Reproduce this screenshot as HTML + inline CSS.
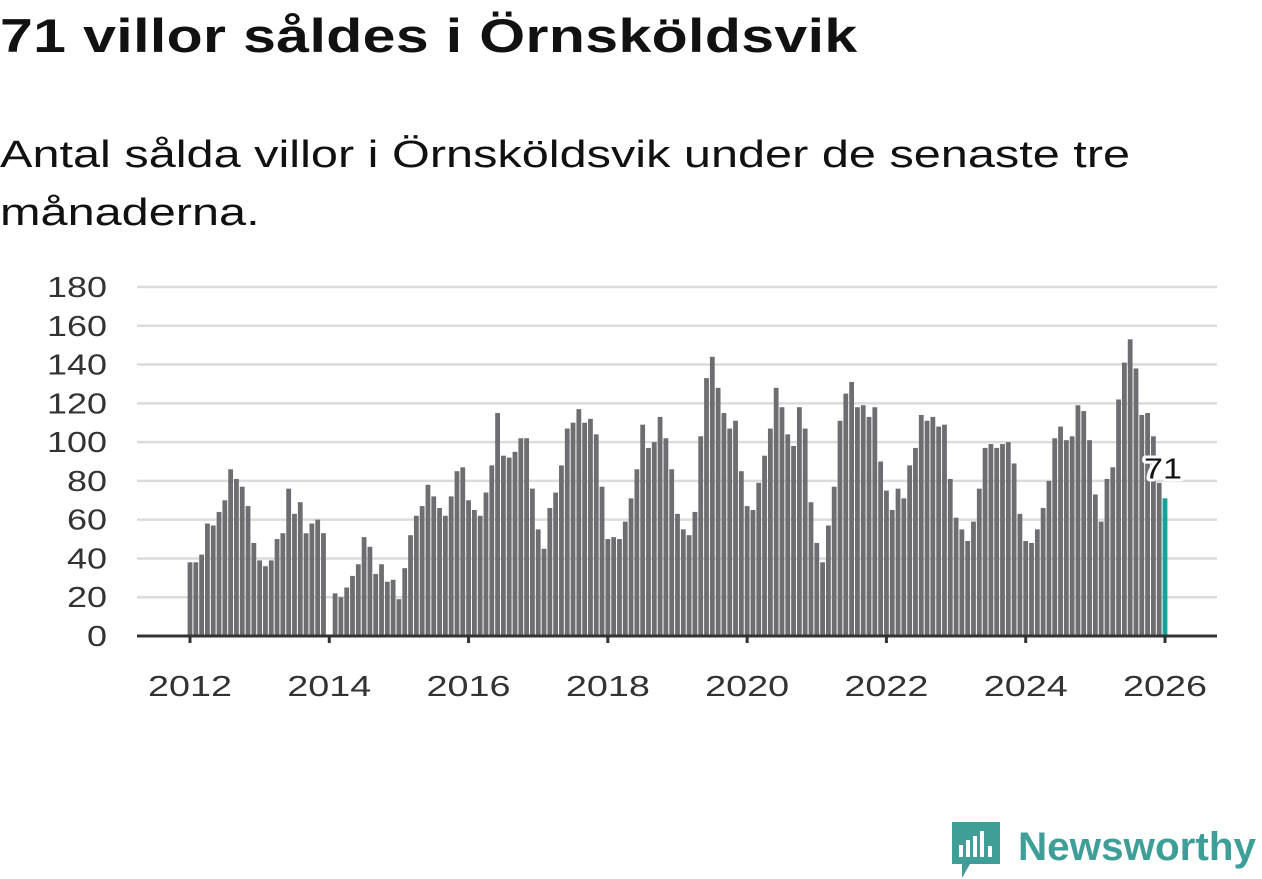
<!DOCTYPE html>
<html><head><meta charset="utf-8"><style>
body{margin:0;background:#fff;width:1262px;height:879px;overflow:hidden;font-family:"Liberation Sans","DejaVu Sans",sans-serif;}
#title{position:absolute;left:0;top:8px;font-size:47px;font-weight:bold;color:#111;margin:0;letter-spacing:0.3px;transform:scaleX(1.255);transform-origin:0 0;white-space:nowrap}
#sub{position:absolute;left:0;top:126px;font-size:38px;line-height:58px;color:#111;width:1200px;transform:scaleX(1.28);transform-origin:0 0;white-space:nowrap}
svg{position:absolute;left:0;top:0}
</style></head><body>
<h1 id="title">71 villor såldes i Örnsköldsvik</h1>
<div id="sub">Antal sålda villor i Örnsköldsvik under de senaste tre<br>månaderna.</div>
<svg id="chart" width="1262" height="879"></svg>
<script>
const startYear=2012;
const values=[38,38,42,58,57,64,70,86,81,77,67,48,
39,36,39,50,53,76,63,69,53,58,60,53,
0,
22,20,25,31,37,51,46,32,37,28,
29,19,35,52,62,67,78,72,66,62,
72,85,87,70,65,62,74,88,115,93,
92,95,102,102,76,55,45,66,74,88,
107,110,117,110,112,104,77,50,51,50,
59,71,86,109,97,100,113,102,86,63,
55,52,64,103,133,144,128,115,107,111,
85,67,65,79,93,107,128,118,104,98,
118,107,69,48,38,57,77,111,125,131,
118,119,113,118,90,75,65,76,71,88,
97,114,111,113,108,109,81,61,55,49,
59,76,97,99,97,99,100,89,63,49,
48,55,66,80,102,108,101,103,119,116,
101,73,59,81,87,122,141,153,138,114,
115,103,79,71];
const yTicks=[0,20,40,60,80,100,120,140,160,180];
const xTicks=[2012,2014,2016,2018,2020,2022,2024,2026];
const NS="http://www.w3.org/2000/svg";
const svg=document.getElementById('chart');
const y=v=>636-v*(349/180);
const x=i=>190+i*(975/168);
function mk(t,a){const e=document.createElementNS(NS,t);for(const k in a)e.setAttribute(k,a[k]);svg.appendChild(e);return e;}
yTicks.forEach(t=>{
  if(t>0){const l=mk('line',{x1:137,x2:1217,y1:y(t),y2:y(t),stroke:'#dcdcdc','stroke-width':2.5});
  
  }
  const s=String(t);
  const tx=mk('text',{x:107,y:y(t)+10,'text-anchor':'end','font-size':29,fill:'#333',textLength:s.length*20,lengthAdjust:'spacingAndGlyphs'});
  tx.textContent=s;
  
  
});
values.forEach((v,i)=>{
  if(!v)return;
  const r=mk('rect',{x:x(i)-2.4,y:y(v),width:4.8,height:636-y(v),fill:i===values.length-1?'#15a39b':'#6e6d72'});
  
  
});
const ax=mk('line',{x1:137,x2:1217,y1:636,y2:636,stroke:'#333','stroke-width':3});


xTicks.forEach(t=>{
  const xi=x((t-startYear)*12);
  const tk=mk('line',{x1:xi,x2:xi,y1:636,y2:643,stroke:'#333','stroke-width':3});
  
  
  const tx=mk('text',{x:xi,y:696,'text-anchor':'middle','font-size':29,fill:'#333',textLength:84,lengthAdjust:'spacingAndGlyphs'});
  tx.textContent=t;
  
  
});
const li=values.length-1;
const lb=mk('text',{x:x(li)-2,y:y(values[li])-20,'text-anchor':'middle','font-size':29,fill:'#111',stroke:'#fff','stroke-width':6,'paint-order':'stroke','stroke-linejoin':'round',textLength:38,lengthAdjust:'spacingAndGlyphs'});
lb.textContent=values[li];


</script>
<svg width="1262" height="879" style="position:absolute;left:0;top:0;pointer-events:none">
<path d="M952 822 h48 v42 h-30 l-8 14 v-14 h-10 z" fill="#3f9e98"/>
<rect x="959" y="845" width="4" height="12" fill="#fff"/>
<rect x="966" y="840" width="4" height="17" fill="#fff"/>
<rect x="973" y="836" width="4" height="21" fill="#fff"/>
<rect x="980" y="831" width="4" height="26" fill="#fff"/>
<rect x="988" y="846" width="4" height="11" fill="#fff"/>
<text x="1018" y="860" font-size="40" font-weight="bold" fill="#3f9e98" font-family="Liberation Sans, sans-serif" textLength="238" lengthAdjust="spacingAndGlyphs">Newsworthy</text>
</svg>
</body></html>
